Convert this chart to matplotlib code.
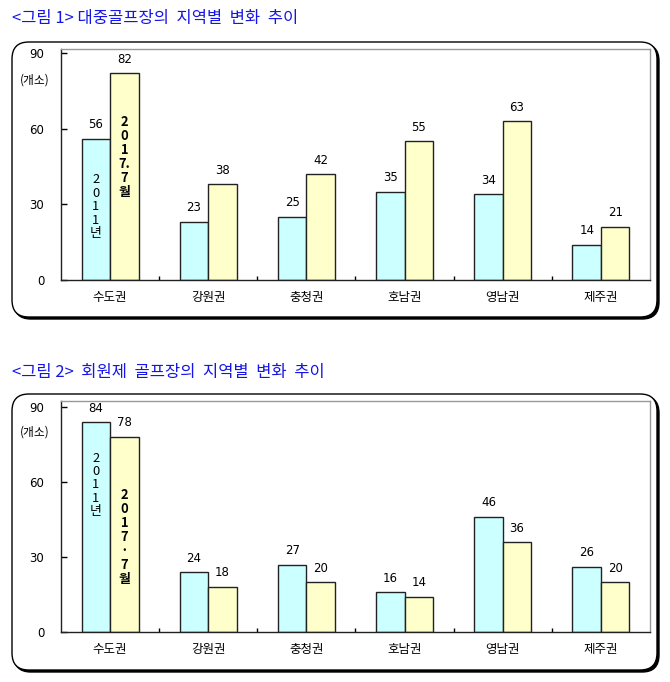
import matplotlib
matplotlib.use("Agg")
import matplotlib.pyplot as plt
from matplotlib.patches import FancyBboxPatch
import numpy as np

plt.rcParams['font.family'] = ['Noto Sans CJK KR', 'DejaVu Sans']

categories = ['수도권', '강원권', '충청권', '호남권', '영남권', '제주권']
public_2011 = [56, 23, 25, 35, 34, 14]
public_2017 = [82, 38, 42, 55, 63, 21]
member_2011 = [84, 24, 27, 16, 46, 26]
member_2017 = [78, 18, 20, 14, 36, 20]
titles = ['<그림 1> 대중골프장의  지역별  변화  추이', '<그림 2>  회원제  골프장의  지역별  변화  추이']
yticks = [0, 30, 60, 90]
unit_label = '(개소)'
label_2011 = '2\n0\n1\n1\n년'
label_2017_a = '2\n0\n1\n7.\n7\n월'
label_2017_b = '2\n0\n1\n7\n·\n7\n월'

W, H = 670, 682
fig = plt.figure(figsize=(W / 100, H / 100), dpi=100)

def fx(px):
    return px / W

def fy(py):
    return 1 - py / H

cyan = '#CCFFFF'
yellow = '#FFFFCC'
bw = 0.29

def panel(box_top, box_bot, ax_top, ax_bot, title_y, s1, s2, title, txt1, txt1_y, txt2, txt2_y, unit_y, ymax):
    fig.text(fx(12), fy(title_y), title, color='#1515E6', fontsize=11.9, va='center', ha='left')
    x0, x1 = 12, 657
    sh = FancyBboxPatch((fx(x0 + 2), fy(box_bot + 2)), fx(x1 - x0), (box_bot - box_top) / H,
                        boxstyle='round,pad=0,rounding_size=0.025', transform=fig.transFigure,
                        facecolor='black', edgecolor='black', lw=1, zorder=0)
    fig.patches.append(sh)
    bx = FancyBboxPatch((fx(x0), fy(box_bot)), fx(x1 - x0), (box_bot - box_top) / H,
                        boxstyle='round,pad=0,rounding_size=0.025', transform=fig.transFigure,
                        facecolor='white', edgecolor='black', lw=1, zorder=1)
    fig.patches.append(bx)

    left, right = 61, 650
    ax = fig.add_axes([fx(left), fy(ax_bot), fx(right - left), (ax_bot - ax_top) / H])
    ax.set_zorder(2)
    ax.patch.set_alpha(0)
    x = np.arange(len(categories))
    ax.bar(x - bw / 2, s1, bw, color=cyan, edgecolor='#222222', lw=1)
    ax.bar(x + bw / 2, s2, bw, color=yellow, edgecolor='#222222', lw=1)
    for i in range(len(categories)):
        ax.text(x[i] - bw / 2, s1[i] + 3.0, str(s1[i]), ha='center', va='bottom', fontsize=8.5,
                family=['DejaVu Sans'])
        ax.text(x[i] + bw / 2, s2[i] + 3.0, str(s2[i]), ha='center', va='bottom', fontsize=8.5,
                family=['DejaVu Sans'])
    ax.text(x[0] - bw / 2, txt1_y, txt1, ha='center', va='center', fontsize=9.3, linespacing=1.05)
    ax.text(x[0] + bw / 2, txt2_y, txt2, ha='center', va='center', fontsize=9.3, linespacing=1.0,
            fontweight='bold')
    ax.set_xlim(-0.5, len(categories) - 0.5)
    ax.set_ylim(0, ymax)
    ax.set_yticks(yticks)
    ax.set_yticklabels([str(t) for t in yticks], fontsize=8.5, family=['DejaVu Sans'])
    ax.tick_params(axis='y', direction='in', length=4, pad=12, width=1)
    ax.set_xticks(x)
    ax.set_xticklabels(categories, fontsize=9)
    ax.tick_params(axis='x', length=0, pad=8)
    ax.set_xticks(np.arange(0.5, len(categories) - 0.5, 1), minor=True)
    ax.tick_params(axis='x', which='minor', direction='in', length=3, width=1)
    for s in ['top', 'right']:
        ax.spines[s].set_color('#999999')
        ax.spines[s].set_linewidth(1)
    for s in ['left', 'bottom']:
        ax.spines[s].set_color('#222222')
        ax.spines[s].set_linewidth(1)
    fig.text(fx(35), fy(unit_y), unit_label, fontsize=8.5, ha='center', va='center')
    return ax

panel(42, 317, 49, 280, 18, public_2011, public_2017, titles[0], label_2011, 29, label_2017_a, 48.8, 80, 91.6)
panel(394, 670, 401, 632, 373, member_2011, member_2017, titles[1], label_2011, 58.8, label_2017_b, 38, 432, 92.4)

fig.savefig('out.png', dpi=100)
